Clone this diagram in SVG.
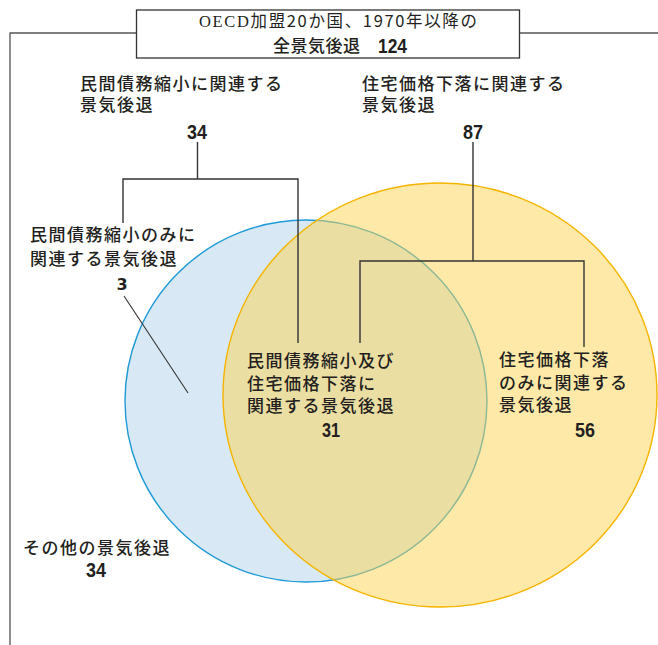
<svg xmlns="http://www.w3.org/2000/svg" width="658" height="645" viewBox="0 0 658 645">
<style>
.jp{font-family:"Noto Sans CJK JP","Noto Sans",sans-serif;font-size:17px;font-weight:500;letter-spacing:1.5px;fill:#231f20}
.num{font-family:"Liberation Sans",Arial,sans-serif;font-weight:bold;font-size:20px;fill:#231f20;text-anchor:middle}
.num3{font-family:"DejaVu Sans",sans-serif;font-weight:bold;font-size:16px;fill:#231f20;text-anchor:middle}
.ln{fill:none;stroke:#333;stroke-width:1.4}
.frame{fill:none;stroke:#555;stroke-width:1.3}
</style>
<rect width="658" height="645" fill="#fff"/>

<g id="frame">
<polyline class="frame" points="10,645 10,33 136,33"/>
<line class="frame" x1="520" y1="33" x2="658" y2="33"/>
</g>

<g id="circle-private-debt">
<circle cx="306" cy="401" r="181" fill="#d8e9f5" stroke="#1e9ad6" stroke-width="1.4"/>
</g>
<g id="circle-housing">
<ellipse cx="440" cy="395" rx="217" ry="212" fill="#fdd351" fill-opacity="0.5" stroke="#f5b400" stroke-width="1.4"/>
</g>

<g id="connectors">
<line class="ln" x1="197.5" y1="142" x2="197.5" y2="179"/>
<polyline class="ln" points="123,223 123,179 298,179 298,343"/>
<line class="ln" x1="473" y1="142" x2="473" y2="261"/>
<polyline class="ln" points="360,343 360,261 584,261 584,347"/>
<line x1="124" y1="296" x2="188" y2="393" stroke="#333" stroke-width="1.1"/>
</g>

<g id="node-total">
<rect x="136.5" y="10" width="383" height="48" fill="#fff" stroke="#333" stroke-width="1.3"/>
<text x="199" y="27" textLength="278" lengthAdjust="spacing" style="font-family:'Noto Sans CJK JP','Noto Sans',sans-serif;font-size:16.5px;fill:#231f20"><tspan style="font-family:'Liberation Serif',serif">OECD</tspan>加盟20か国、1970年以降の</text>
<text x="273" y="52" style="font-family:'Noto Sans CJK JP','Noto Sans',sans-serif;font-size:17px;font-weight:500;letter-spacing:0.5px;fill:#231f20">全景気後退</text>
<text class="num" x="392.5" y="53" textLength="29" lengthAdjust="spacingAndGlyphs">124</text>
</g>

<g id="node-private-debt">
<text class="jp" x="80" y="90">民間債務縮小に関連する</text>
<text class="jp" x="80" y="111">景気後退</text>
<text class="num" x="197" y="139" textLength="20" lengthAdjust="spacingAndGlyphs">34</text>
</g>

<g id="node-housing">
<text class="jp" x="362" y="90">住宅価格下落に関連する</text>
<text class="jp" x="362" y="111">景気後退</text>
<text class="num" x="473" y="139" textLength="20" lengthAdjust="spacingAndGlyphs">87</text>
</g>

<g id="node-private-only">
<text class="jp" x="30" y="241">民間債務縮小のみに</text>
<text class="jp" x="30" y="265">関連する景気後退</text>
<text class="num3" x="122" y="290">3</text>
</g>

<g id="node-both">
<text class="jp" x="247" y="367">民間債務縮小及び</text>
<text class="jp" x="247" y="390">住宅価格下落に</text>
<text class="jp" x="247" y="412">関連する景気後退</text>
<text class="num" x="331" y="437" textLength="18" lengthAdjust="spacingAndGlyphs">31</text>
</g>

<g id="node-housing-only">
<text class="jp" x="499" y="366">住宅価格下落</text>
<text class="jp" x="499" y="389">のみに関連する</text>
<text class="jp" x="499" y="411">景気後退</text>
<text class="num" x="585" y="437" textLength="20" lengthAdjust="spacingAndGlyphs">56</text>
</g>

<g id="node-other">
<text class="jp" x="23" y="554">その他の景気後退</text>
<text class="num" x="96" y="577" textLength="20" lengthAdjust="spacingAndGlyphs">34</text>
</g>
</svg>
